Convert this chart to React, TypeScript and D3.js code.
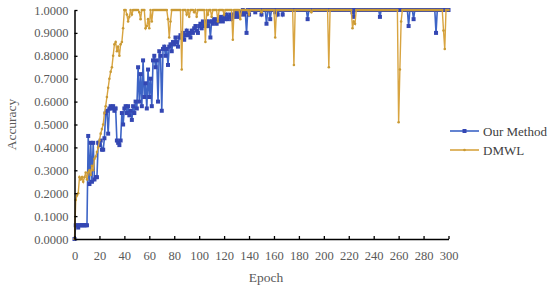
import { useEffect, useRef } from "react";
import * as d3 from "d3";

// Accuracy per epoch (0..300)
const ourMethod: number[] = [
  0, 0.06, 0.06, 0.05, 0.06, 0.06, 0.06, 0.06, 0.06, 0.06,
  0.06, 0.45, 0.24, 0.42, 0.25, 0.42, 0.26, 0.27, 0.27, 0.42,
  0.41, 0.43, 0.39, 0.39, 0.44, 0.55, 0.56, 0.46, 0.57, 0.58,
  0.57, 0.58, 0.56, 0.57, 0.43, 0.42, 0.41, 0.43, 0.55, 0.50,
  0.57, 0.58, 0.55, 0.58, 0.54, 0.56, 0.52, 0.58, 0.55, 0.60,
  0.57, 0.75, 0.60, 0.72, 0.58, 0.78, 0.62, 0.68, 0.57, 0.74,
  0.62, 0.70, 0.58, 0.78, 0.80, 0.75, 0.78, 0.60, 0.82, 0.80,
  0.56, 0.83, 0.84, 0.80, 0.83, 0.76, 0.84, 0.85, 0.82, 0.86,
  0.85, 0.88, 0.86, 0.84, 0.88, 0.89, 0.88, 0.90, 0.87, 0.89,
  0.91, 0.89, 0.90, 0.88, 0.91, 0.90, 0.92, 0.93, 0.91, 0.90,
  0.93, 0.94, 0.92, 0.95, 0.93, 0.94, 0.95, 0.93, 0.95, 0.88,
  0.95, 0.94, 0.96, 0.95, 0.94, 0.96, 0.95, 0.97, 0.96, 0.95,
  0.97, 0.96, 0.98, 0.96, 0.97, 0.98, 0.96, 0.98, 0.97, 0.99,
  0.98, 0.97, 0.99, 0.98, 0.99, 1, 0.98, 0.99, 0.90, 1,
  0.98, 1, 1, 1, 1, 0.99, 1, 1, 1, 1,
  0.98, 1, 1, 1, 0.94, 1, 1, 0.96, 1, 1,
  1, 0.99, 1, 0.98, 1, 1, 1, 0.98, 1, 1,
  1, 1, 1, 1, 1, 1, 1, 1, 1, 1,
  1, 1, 1, 1, 1, 1, 1, 0.96, 1, 1,
  1, 1, 1, 1, 1, 1, 1, 1, 1, 1,
  1, 1, 1, 1, 1, 1, 1, 1, 1, 1,
  1, 1, 1, 1, 1, 1, 1, 1, 1, 1,
  1, 1, 1, 0.99, 0.97, 1, 1, 1, 1, 1,
  1, 1, 1, 1, 1, 1, 1, 1, 1, 1,
  1, 1, 1, 1, 1, 0.97, 1, 1, 1, 1,
  1, 1, 1, 1, 1, 1, 1, 1, 1, 1,
  1, 1, 1, 1, 1, 1, 1, 1, 0.93, 1,
  1, 1, 0.96, 1, 1, 1, 1, 1, 1, 1,
  1, 1, 1, 1, 1, 1, 1, 1, 1, 1,
  0.90, 1, 1, 1, 1, 1, 1, 1, 1, 1,
  1,
];

const dmwl: number[] = [
  0, 0.17, 0.19, 0.20, 0.27, 0.26, 0.27, 0.25, 0.27, 0.29,
  0.26, 0.29, 0.30, 0.28, 0.32, 0.30, 0.35, 0.36, 0.38, 0.40,
  0.43, 0.46, 0.48, 0.50, 0.55, 0.58, 0.62, 0.66, 0.70, 0.73,
  0.75, 0.80, 0.85, 0.86, 0.82, 0.84, 0.80, 0.85, 0.86, 0.92,
  1, 1, 0.98, 0.95, 0.97, 1, 0.98, 1, 1, 1,
  1, 1, 0.99, 0.96, 1, 1, 1, 0.92, 0.93, 0.96,
  0.92, 1, 0.95, 1, 1, 1, 1, 1, 1, 1,
  1, 1, 1, 1, 1, 0.96, 0.88, 0.95, 1, 1,
  1, 1, 1, 1, 1, 1, 0.74, 1, 1, 1,
  0.98, 1, 0.97, 1, 1, 1, 0.99, 1, 0.97, 1,
  1, 1, 1, 1, 1, 0.86, 1, 0.98, 1, 1,
  0.97, 1, 1, 1, 1, 0.95, 1, 1, 1, 1,
  0.98, 1, 1, 1, 1, 1, 1, 0.87, 1, 1,
  1, 1, 1, 0.96, 1, 1, 1, 1, 1, 1,
  0.98, 1, 1, 1, 1, 1, 1, 1, 1, 1,
  0.99, 1, 1, 1, 1, 1, 1, 1, 1, 1,
  1, 0.88, 1, 1, 1, 1, 1, 1, 1, 1,
  1, 1, 1, 1, 1, 1, 0.76, 1, 1, 1,
  1, 1, 1, 1, 1, 1, 1, 1, 1, 1,
  0.99, 1, 1, 1, 1, 1, 1, 1, 1, 1,
  1, 1, 1, 1, 0.75, 1, 1, 1, 1, 1,
  1, 1, 1, 1, 1, 1, 1, 1, 1, 1,
  1, 1, 1, 0.92, 0.95, 0.94, 1, 1, 1, 1,
  1, 1, 1, 1, 1, 1, 1, 1, 1, 1,
  1, 1, 1, 1, 1, 1, 1, 1, 1, 1,
  1, 1, 1, 1, 1, 1, 1, 1, 1, 1,
  0.51, 0.74, 0.95, 1, 1, 1, 1, 1, 1, 1,
  1, 1, 1, 1, 1, 1, 1, 1, 1, 1,
  1, 1, 1, 1, 1, 1, 1, 1, 1, 1,
  1, 1, 1, 1, 1, 1, 0.91, 0.83, 1, 1,
  1,
];

const xTicks = [0, 20, 40, 60, 80, 100, 120, 140, 160, 180, 200, 220, 240, 260, 280, 300];
const yTicks = [0, 0.1, 0.2, 0.3, 0.4, 0.5, 0.6, 0.7, 0.8, 0.9, 1.0];
const seriesNames = ["Our Method", "DMWL"];

const W = 550;
const H = 290;
const FONT = "'Liberation Serif', 'Times New Roman', serif";
const BLUE = "#3d64c6";
const BLUE_MARK = "#3447b3";
const GOLD = "#d8a440";
const GOLD_MARK = "#c99a35";

export default function App() {
  const ref = useRef<SVGSVGElement>(null);

  useEffect(() => {
    const svg = d3.select(ref.current);
    svg.selectAll("*").remove();

    const x = d3.scaleLinear().domain([0, 300]).range([74.5, 448.5]);
    const y = d3.scaleLinear().domain([0, 1]).range([239, 10]);

    const line = d3
      .line<number>()
      .x((_, i) => x(i))
      .y((d) => y(d));

    // Our Method
    svg.append("path")
      .datum(ourMethod)
      .attr("d", line)
      .attr("fill", "none")
      .attr("stroke", BLUE)
      .attr("stroke-width", 1.6);

    svg.append("g")
      .selectAll("rect")
      .data(ourMethod)
      .join("rect")
      .attr("x", (_, i) => x(i) - 2)
      .attr("y", (d) => y(d) - 2)
      .attr("width", 4)
      .attr("height", 4)
      .attr("fill", BLUE_MARK);

    // DMWL
    svg.append("path")
      .datum(dmwl)
      .attr("d", line)
      .attr("fill", "none")
      .attr("stroke", GOLD)
      .attr("stroke-width", 1.4);

    svg.append("g")
      .selectAll("circle")
      .data(dmwl)
      .join("circle")
      .attr("cx", (_, i) => x(i))
      .attr("cy", (d) => y(d))
      .attr("r", 1.3)
      .attr("fill", GOLD_MARK);

    // Axes
    const yAxis = svg.append("g")
      .attr("transform", "translate(74.5,0)")
      .call(
        d3.axisLeft(y)
          .tickValues(yTicks)
          .tickFormat(d3.format(".4f"))
          .tickSizeInner(-3)
          .tickSizeOuter(0)
          .tickPadding(6)
      );

    const xAxis = svg.append("g")
      .attr("transform", "translate(0,239)")
      .call(
        d3.axisBottom(x)
          .tickValues(xTicks)
          .tickFormat(d3.format("d"))
          .tickSizeInner(-3)
          .tickSizeOuter(0)
          .tickPadding(12)
      );

    [yAxis, xAxis].forEach((ax) => {
      ax.select(".domain").attr("stroke", "#000").attr("stroke-width", 1.5);
      ax.selectAll(".tick line").attr("stroke", "#000").attr("stroke-width", 1.3);
      ax.selectAll(".tick text")
        .attr("fill", "#595959")
        .style("font-family", FONT)
        .style("font-size", "12.5px");
    });

    // Axis titles
    svg.append("text")
      .attr("transform", `translate(16,${(10 + 239) / 2}) rotate(-90)`)
      .attr("text-anchor", "middle")
      .attr("fill", "#595959")
      .style("font-family", FONT)
      .style("font-size", "13.5px")
      .text("Accuracy");

    svg.append("text")
      .attr("x", 266)
      .attr("y", 282)
      .attr("text-anchor", "middle")
      .attr("fill", "#595959")
      .style("font-family", FONT)
      .style("font-size", "13.5px")
      .text("Epoch");

    // Legend
    const legend = svg.append("g").attr("transform", "translate(450,131)");
    seriesNames.forEach((name, i) => {
      const g = legend.append("g").attr("transform", `translate(0,${i * 19})`);
      g.append("line")
        .attr("x1", 0)
        .attr("x2", 29)
        .attr("stroke", i === 0 ? BLUE : GOLD)
        .attr("stroke-width", 1.6);
      if (i === 0) {
        g.append("rect").attr("x", 12.5).attr("y", -2).attr("width", 4).attr("height", 4).attr("fill", BLUE_MARK);
      } else {
        g.append("circle").attr("cx", 14.5).attr("cy", 0).attr("r", 1.3).attr("fill", GOLD_MARK);
      }
      g.append("text")
        .attr("x", 33)
        .attr("y", 4.5)
        .attr("fill", "#404040")
        .style("font-family", FONT)
        .style("font-size", "13px")
        .text(name);
    });
  }, []);

  return (
    <div style={{ position: "absolute", left: 0, top: 0 }}>
      <svg width={W} height={H} ref={ref} style={{ display: "block", background: "#fff" }} />
    </div>
  );
}
